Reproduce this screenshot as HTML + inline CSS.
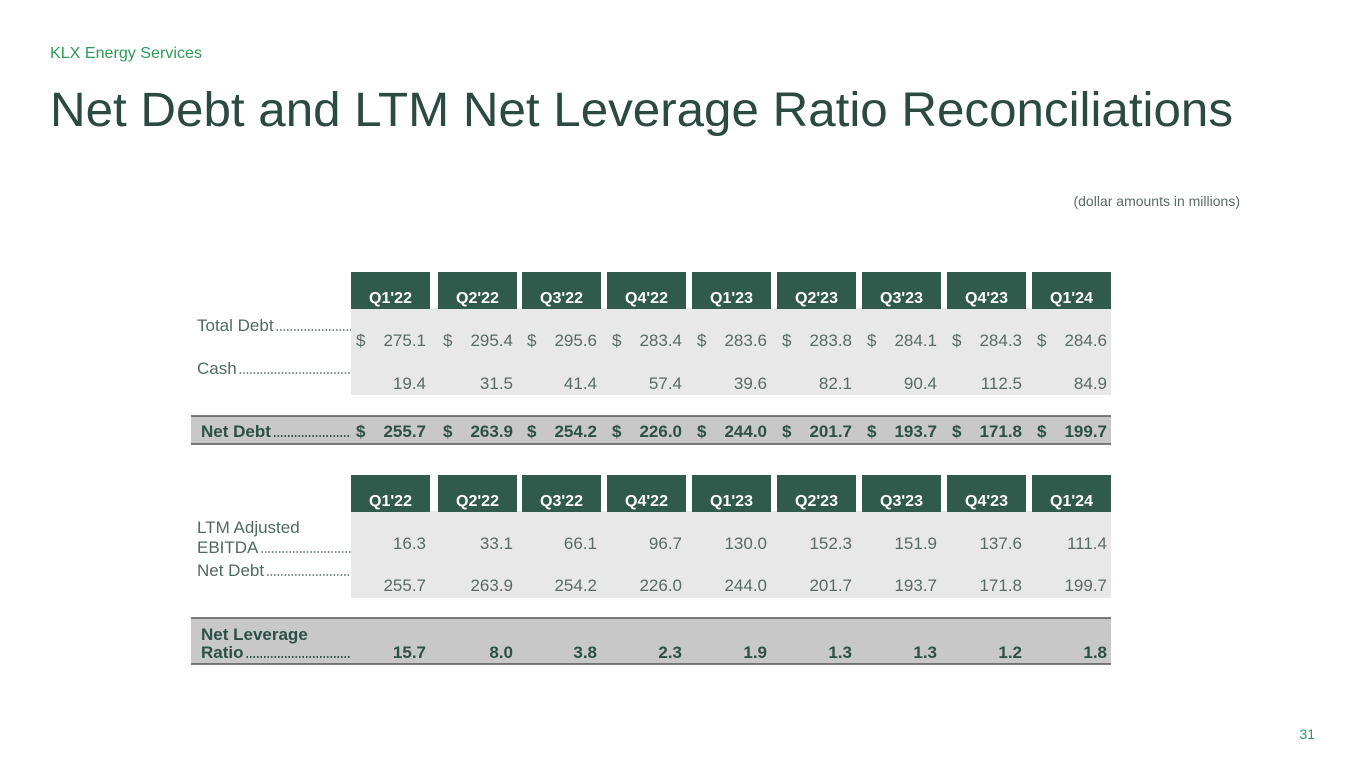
<!DOCTYPE html>
<html><head><meta charset="utf-8"><style>
html,body{margin:0;padding:0;background:#fff;}
svg{display:block;font-family:"Liberation Sans",sans-serif;}
</style></head><body>
<svg id="s" width="1365" height="768" viewBox="0 0 1365 768">
<text x="50" y="58" font-size="16" fill="#2e9a5a" textLength="152" lengthAdjust="spacingAndGlyphs">KLX Energy Services</text>
<text x="50" y="126" font-size="48" fill="#2b4a42" textLength="1183" lengthAdjust="spacingAndGlyphs">Net Debt and LTM Net Leverage Ratio Reconciliations</text>
<text x="1240" y="206" font-size="14" fill="#5a6a66" text-anchor="end">(dollar amounts in millions)</text>
<text x="1315" y="739" font-size="14" fill="#2e9a5a" text-anchor="end">31</text>
<g id="t1"></g>
<g id="t2"></g>
</svg>
<script>
const quarters=["Q1'22","Q2'22","Q3'22","Q4'22","Q1'23","Q2'23","Q3'23","Q4'23","Q1'24"];
const totalDebt=[275.1,295.4,295.6,283.4,283.6,283.8,284.1,284.3,284.6];
const cash=[19.4,31.5,41.4,57.4,39.6,82.1,90.4,112.5,84.9];
const netDebt=[255.7,263.9,254.2,226.0,244.0,201.7,193.7,171.8,199.7];
const ltmEbitda=[16.3,33.1,66.1,96.7,130.0,152.3,151.9,137.6,111.4];
const leverage=[15.7,8.0,3.8,2.3,1.9,1.3,1.3,1.2,1.8];
const NS="http://www.w3.org/2000/svg";
const colL=[351,438,522,607,692,777,862,947,1032];
const colW=79;
function el(p,tag,a,txt){const e=document.createElementNS(NS,tag);for(const k in a)e.setAttribute(k,a[k]);if(txt!==undefined)e.textContent=txt;p.appendChild(e);return e;}
function header(g,y){
  quarters.forEach((q,i)=>{
    const r=el(g,'rect',{x:colL[i],y:y,width:colW,height:37,fill:'#2f5a4c'});
    
    
    const t=el(g,'text',{x:colL[i]+colW/2,y:y+31,'font-size':16,'font-weight':'bold',fill:'#fff','text-anchor':'middle'},q);
    
    
  });
}
function label(g,x,y,txt,dotsEnd,bold){
  const t=el(g,'text',{x:x,y:y,'font-size':17,fill:bold?'#2d5046':'#4f6a60','font-weight':bold?'bold':'normal'},txt);
  
  
  const w=t.getComputedTextLength();
  const d=el(g,'line',{x1:x+w+3,x2:dotsEnd,y1:y-1,y2:y-1,stroke:bold?'#2d5046':'#4f6a60','stroke-width':bold?2:1.5,'stroke-dasharray':'1.5 2'});
  
  
}
function row(g,vals,y,dollar,bold,name){
  vals.forEach((v,i)=>{
    const col=bold?'#2d5046':'#5a6a64';
    const t=el(g,'text',{x:colL[i]+colW-4,y:y,'font-size':17,fill:col,'font-weight':bold?'bold':'normal','text-anchor':'end'},v.toFixed(1));
    
    
    if(dollar){
      const d=el(g,'text',{x:colL[i]+5,y:y,'font-size':17,fill:col,'font-weight':bold?'bold':'normal'},'$');
      
      
    }
  });
}
// table 1
const g1=document.getElementById('t1');
let b=el(g1,'rect',{x:351,y:308,width:760,height:87,fill:'#e8e8e8'});

header(g1,272);
label(g1,197,331,'Total Debt',351,false);
label(g1,197,374,'Cash',351,false);
row(g1,totalDebt,346,true,false,'total-debt-value');
row(g1,cash,389,false,false,'cash-value');
b=el(g1,'rect',{x:191,y:416,width:920,height:28,fill:'#c8c8c8'});

el(g1,'line',{x1:191,x2:1111,y1:416,y2:416,stroke:'#555','stroke-width':1.5});
el(g1,'line',{x1:191,x2:1111,y1:444,y2:444,stroke:'#555','stroke-width':1.5});
label(g1,201,437,'Net Debt',351,true);
row(g1,netDebt,437,true,true,'net-debt-value');
// table 2
const g2=document.getElementById('t2');
b=el(g2,'rect',{x:351,y:511,width:760,height:87,fill:'#e8e8e8'});

header(g2,475);
const lt=el(g2,'text',{x:197,y:533,'font-size':17,fill:'#4f6a60'},'LTM Adjusted');

label(g2,197,553,'EBITDA',351,false);
label(g2,197,576,'Net Debt',351,false);
row(g2,ltmEbitda,549,false,false,'ltm-ebitda-value');
row(g2,netDebt,591,false,false,'net-debt-value');
b=el(g2,'rect',{x:191,y:618,width:920,height:46,fill:'#c8c8c8'});

el(g2,'line',{x1:191,x2:1111,y1:618,y2:618,stroke:'#555','stroke-width':1.5});
el(g2,'line',{x1:191,x2:1111,y1:664,y2:664,stroke:'#555','stroke-width':1.5});
const nl=el(g2,'text',{x:201,y:640,'font-size':17,fill:'#2d5046','font-weight':'bold'},'Net Leverage');

label(g2,201,658,'Ratio',351,true);
row(g2,leverage,658,false,true,'leverage-value');
</script>
</body></html>
